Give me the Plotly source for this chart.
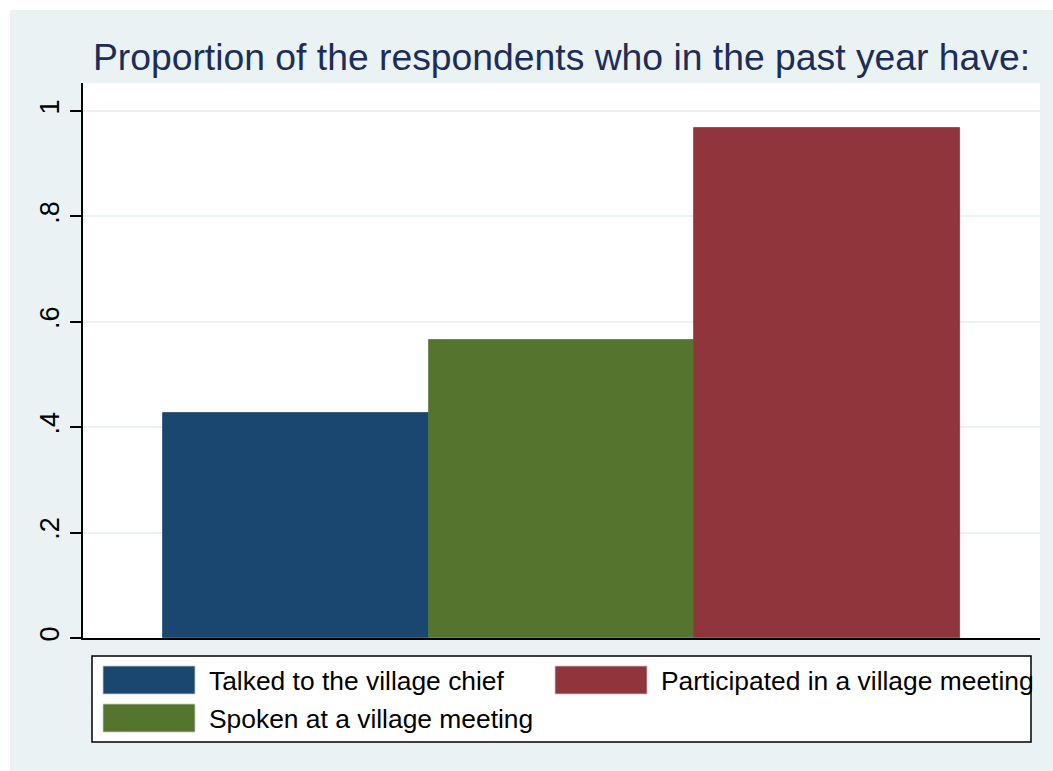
import plotly.graph_objects as go

# ---- data ----
categories = ["Talked to the village chief", "Spoken at a village meeting", "Participated in a village meeting"]
values = [0.427, 0.566, 0.967]
colors = ["#1A476F", "#55752F", "#90353B"]
tick_vals = [0, 0.2, 0.4, 0.6, 0.8, 1.0]
tick_text = ["0", ".2", ".4", ".6", ".8", "1"]
title_text = "Proportion of the respondents who in the past year have:"

W, H = 1053, 771
L, R, T, B = 83, 13, 83, 133
pw, ph = W - L - R, H - T - B


def px_x(x):
    return (x - L) / pw


def px_y(y):
    return (H - B - y) / ph


fig = go.Figure()
for i, (cat, val, col) in enumerate(zip(categories, values, colors)):
    fig.add_trace(go.Bar(
        x=[i + 1], y=[val], width=1.0, name=cat,
        marker=dict(color=col, line=dict(width=0.8, color=col)),
        showlegend=False,
    ))

shapes = [
    # white margins left & top
    dict(type="rect", xref="paper", yref="paper", x0=px_x(-5), x1=px_x(10), y0=px_y(H + 5), y1=px_y(-5),
         fillcolor="white", line=dict(width=0), layer="below"),
    dict(type="rect", xref="paper", yref="paper", x0=px_x(-5), x1=px_x(W + 5), y0=px_y(10), y1=px_y(-5),
         fillcolor="white", line=dict(width=0), layer="below"),
    # legend box
    dict(type="rect", xref="paper", yref="paper", x0=px_x(92), x1=px_x(1031), y0=px_y(742), y1=px_y(656),
         fillcolor="white", line=dict(width=1.5, color="black")),
]

# legend layout: Stata-style 2 columns (row 1: items 1 & 3, row 2: item 2)
legend_pos = [(103, 666), (103, 704), (555, 666)]
annotations = []
for (sx, sy), cat, col in zip(legend_pos, categories, colors):
    shapes.append(dict(type="rect", xref="paper", yref="paper",
                       x0=px_x(sx), x1=px_x(sx + 92), y0=px_y(sy + 28), y1=px_y(sy),
                       fillcolor=col, line=dict(width=0.8, color="#c8c8c8")))
    annotations.append(dict(xref="paper", yref="paper", x=px_x(sx + 104), y=px_y(sy + 15),
                            text=cat, showarrow=False, xanchor="left", yanchor="middle",
                            font=dict(family="Liberation Sans, Arial, sans-serif", size=26.4, color="black")))

fig.update_layout(
    width=W, height=H,
    margin=dict(l=L, r=R, t=T, b=B),
    paper_bgcolor="#EAF2F3",
    plot_bgcolor="white",
    showlegend=False,
    bargap=0,
    title=dict(text=title_text, x=px_x(561.5), xanchor="center", xref="paper",
               y=1 - 57 / H, yanchor="middle", yref="container",
               font=dict(family="Liberation Sans, Arial, sans-serif", size=37.3, color="#1C2D5A")),
    xaxis=dict(range=[0.5 - 80 / 265.5, 3.5 + 80 / 265.5], showticklabels=False, ticks="",
               showgrid=False, zeroline=False, showline=True, linecolor="black", linewidth=1.5),
    yaxis=dict(range=[0, (638 - 83) / 527], tickvals=tick_vals, ticktext=tick_text,
               tickangle=-90, ticks="outside", ticklen=11, tickwidth=1.5, tickcolor="black",
               showgrid=True, gridcolor="#EAF2F3", gridwidth=1.5, zeroline=False,
               showline=True, linecolor="black", linewidth=1.5,
               tickfont=dict(family="Liberation Sans, Arial, sans-serif", size=27, color="black")),
    shapes=shapes,
    annotations=annotations,
)

fig.write_html("out.html", config={"displayModeBar": False},
               post_script="document.body.style.margin='0';")
